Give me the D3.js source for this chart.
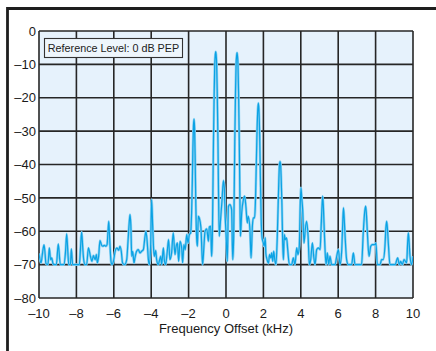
<!DOCTYPE html>
<html><head><meta charset="utf-8">
<script src="https://cdn.jsdelivr.net/npm/d3@7/dist/d3.min.js"></script>
<style>
html,body{margin:0;padding:0;background:#fff;}
svg{display:block;font-family:"Liberation Sans",Arial,Helvetica,sans-serif;}
</style></head>
<body><svg id="c" width="436" height="351"></svg>
<script>
const freq = [
-10.0,-9.89,-9.80,-9.73,-9.67,-9.63,-9.52,-9.45,-9.38,-9.32,-9.25,-9.18,-9.07,-8.97,-8.86,-8.66,-8.58,-8.52,-8.46,-8.41,
-8.32,-8.27,-8.20,-7.84,-7.78,-7.72,-7.66,-7.61,-7.54,-7.45,-7.36,-7.25,-7.17,-7.09,-7.00,-6.93,-6.88,-6.81,-6.74,-6.65,
-6.58,-6.51,-6.42,-6.36,-6.31,-6.27,-6.23,-6.20,-6.15,-6.10,-6.02,-5.92,-5.83,-5.74,-5.67,-5.60,-5.53,-5.42,-5.31,-5.24,
-5.17,-5.13,-5.09,-5.04,-4.99,-4.92,-4.87,-4.78,-4.69,-4.60,-4.51,-4.42,-4.33,-4.28,-4.21,-4.15,-4.10,-4.03,-3.98,-3.92,
-3.87,-3.83,-3.76,-3.71,-3.62,-3.57,-3.49,-3.44,-3.35,-3.30,-3.23,-3.14,-3.07,-3.00,-2.91,-2.82,-2.73,-2.68,-2.60,-2.53,
-2.46,-2.37,-2.32,-2.25,-2.18,-2.10,-2.03,-1.96,-1.89,-1.84,-1.80,-1.77,-1.74,-1.71,-1.68,-1.65,-1.62,-1.57,-1.53,-1.48,
-1.43,-1.34,-1.25,-1.18,-1.12,-1.03,-0.94,-0.89,-0.82,-0.77,-0.73,-0.70,-0.67,-0.63,-0.60,-0.57,-0.55,-0.53,-0.50,-0.47,
-0.43,-0.40,-0.36,-0.29,-0.21,-0.14,-0.09,-0.04,0.00,0.07,0.13,0.21,0.30,0.36,0.41,0.44,0.47,0.51,0.54,0.57,
0.59,0.61,0.64,0.67,0.71,0.74,0.77,0.84,0.93,1.00,1.07,1.14,1.19,1.28,1.34,1.41,1.46,1.53,1.58,1.62,
1.66,1.70,1.73,1.76,1.80,1.84,1.88,1.93,2.00,2.04,2.10,2.13,2.20,2.27,2.33,2.40,2.44,2.50,2.55,2.62,
2.67,2.74,2.79,2.83,2.86,2.89,2.92,2.95,2.99,3.03,3.07,3.12,3.17,3.24,3.30,3.39,3.51,3.60,3.69,3.78,
3.85,3.92,3.97,4.01,4.05,4.10,4.17,4.24,4.31,4.39,4.46,4.53,4.62,4.69,4.76,4.85,4.94,5.03,5.10,5.17,
5.21,5.26,5.35,5.42,5.49,5.56,5.65,5.83,5.92,6.01,6.10,6.19,6.24,6.28,6.32,6.36,6.45,6.54,6.72,6.81,
6.90,7.25,7.34,7.42,7.47,7.51,7.56,7.65,7.74,7.83,7.97,8.02,8.09,8.24,8.32,8.41,8.50,8.55,8.59,8.63,
8.68,8.77,9.04,9.18,9.27,9.34,9.43,9.52,9.66,9.71,9.75,9.79,9.84,9.93,10.0
];
const level = [
-66.7,-69.5,-66,-64.1,-67,-69.7,-70,-65,-68.5,-68,-69.7,-70,-70,-63.8,-70,-70,-66,-60.8,-66,-70,
-70,-65.3,-70,-70,-65,-60.2,-65,-68.5,-70,-70,-65,-67.5,-69,-67.3,-68.5,-67,-69.5,-67.5,-62.8,-64.2,
-64.5,-64.2,-64.5,-64,-60,-57,-61,-64.5,-69,-70,-69,-65.8,-65,-65.7,-64.5,-66,-69.5,-70,-68.5,-63,
-57,-55,-58,-67.5,-66,-69.5,-68,-66,-65.5,-66.5,-66,-65.5,-61.5,-60,-63.5,-68.5,-70,-64.5,-50.5,-58.5,
-65.5,-67.5,-65.8,-68.5,-70,-69,-67.5,-70,-65,-68.5,-70,-66,-62.5,-68.5,-66.5,-60.5,-67,-65,-63.5,-69,
-63,-65,-69.5,-64,-65.5,-61,-63.5,-61,-60.5,-54.5,-45,-35,-28.5,-26.4,-29,-38,-50,-62,-64.5,-55.5,
-56,-59,-70,-64.5,-60,-59.3,-63,-58.7,-58.5,-67.5,-62,-48,-33,-18,-10,-7,-6.2,-7,-10,-18,
-33,-48,-61.5,-56.5,-50.5,-44.8,-47,-56,-60.5,-69,-52.5,-52,-53.5,-68.5,-62,-48,-33,-18,-10,-7.3,
-6.5,-7.3,-10,-18,-33,-48,-61.5,-54.5,-50.5,-49.5,-53,-57.5,-55.5,-59.5,-68,-58.5,-56,-56,-50,-40,
-30,-23.5,-21.6,-23.5,-31,-44,-56,-62,-63.6,-64.5,-62,-66.6,-68.6,-69.6,-67,-68,-66.5,-69,-66,-69,
-70,-62,-52,-44,-40,-39.1,-40,-44,-52,-63,-68.5,-61,-62.5,-62,-65.5,-70,-70,-68,-70,-65,
-67,-64.5,-52,-47,-50,-53.5,-63.5,-59.5,-57,-61.5,-70,-68.5,-63.5,-67.5,-70,-65.5,-65,-65.5,-57,-49.5,
-53,-60.5,-70,-66.5,-70,-67.5,-70,-70,-67.5,-65.5,-70,-65.5,-58,-53,-56,-60.5,-68.5,-70,-70,-66.5,
-70,-70,-60.5,-54,-52.5,-55,-60.5,-67.5,-64.5,-64,-64,-63.5,-70,-70,-68.5,-68.5,-64.5,-59,-57,-59,
-63.5,-70,-70,-68,-70,-69,-70,-68.5,-69.5,-64,-60.5,-63,-67.5,-70,-67.5
];
const xTicks = [-10,-8,-6,-4,-2,0,2,4,6,8,10];
const yTicks = [0,-10,-20,-30,-40,-50,-60,-70,-80];
const xTitle = "Frequency Offset (kHz)";
const refNote = "Reference Level: 0 dB PEP";

const svg = d3.select("#c");
const L = 39, R = 413, T = 31, B = 298;
const x = d3.scaleLinear().domain([-10,10]).range([L,R]);
const y = d3.scaleLinear().domain([-80,0]).range([B,T]);
const fmt = d => d < 0 ? "\u2013" + Math.abs(d) : String(d);

// outer frame
svg.append("path").attr("d","M7.5,351 V8.5 H436").attr("fill","none").attr("stroke","#1e1e1e").attr("stroke-width",2.8);

// plot background
svg.append("rect").attr("x",L).attr("y",T).attr("width",R-L).attr("height",B-T).attr("fill","#e6f2fc");

// grid
const g = svg.append("g").attr("stroke","#262626").attr("stroke-width",1.6);
g.selectAll(".vx").data(xTicks).join("line")
  .attr("x1",d=>x(d)).attr("x2",d=>x(d)).attr("y1",T).attr("y2",B);
g.selectAll(".hy").data(yTicks).join("line")
  .attr("y1",d=>y(d)).attr("y2",d=>y(d)).attr("x1",L).attr("x2",R);

// reference box
svg.append("rect").attr("x",44.5).attr("y",38.5).attr("width",138).attr("height",19)
  .attr("fill","#eef6fc").attr("stroke","#333").attr("stroke-width",1.1);
svg.append("text").attr("x",113.5).attr("y",52).attr("text-anchor","middle")
  .attr("font-size",10.8).attr("fill","#222").text(refNote);

// clip
svg.append("clipPath").attr("id","cp").append("rect").attr("x",L).attr("y",T).attr("width",R-L).attr("height",B-T);

const pts = freq.map((f,i)=>[f,level[i]]);
const line = d3.line().x(d=>x(d[0])).y(d=>y(d[1])).curve(d3.curveMonotoneX);
svg.append("path").datum(pts).attr("clip-path","url(#cp)")
  .attr("fill","none").attr("stroke","#8fd3f3").attr("stroke-width",2.6).attr("stroke-linejoin","round").attr("d",line);
svg.append("path").datum(pts).attr("clip-path","url(#cp)")
  .attr("fill","none").attr("stroke","#0aa2e4").attr("stroke-width",1.2).attr("stroke-linejoin","round").attr("d",line);

// axes labels
svg.append("g").selectAll("text").data(xTicks).join("text")
  .attr("x",d=>x(d)).attr("y",318).attr("text-anchor","middle")
  .attr("font-size",13).attr("fill","#1a1a1a").text(fmt);
svg.append("g").selectAll("text").data(yTicks).join("text")
  .attr("x",36).attr("y",d=>y(d)).attr("dy","0.36em").attr("text-anchor","end")
  .attr("font-size",13).attr("fill","#1a1a1a").text(fmt);
svg.append("text").attr("x",226).attr("y",333).attr("text-anchor","middle")
  .attr("font-size",13).attr("fill","#1a1a1a").text(xTitle);
</script></body></html>
